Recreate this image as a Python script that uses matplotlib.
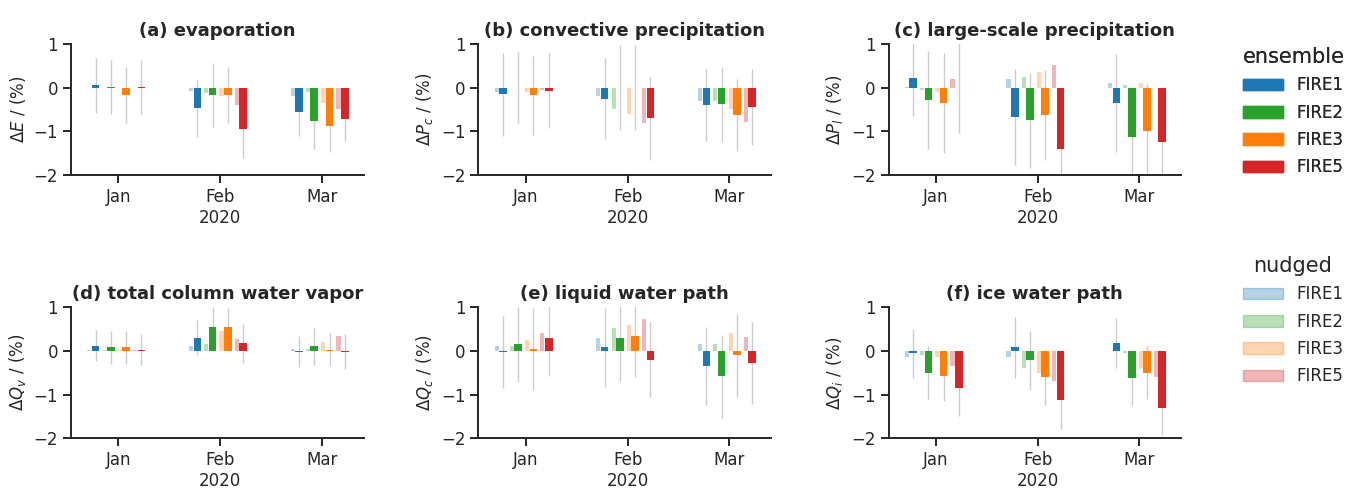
import numpy as np
import matplotlib
matplotlib.use("Agg")
import matplotlib.pyplot as plt
from matplotlib.patches import Patch

months = ["Jan", "Feb\n2020", "Mar"]
fires = ["FIRE1", "FIRE2", "FIRE3", "FIRE5"]
colors = ["#1f77b4", "#2ca02c", "#ff7f0e", "#d62728"]

titles = ["(a) evaporation", "(b) convective precipitation",
          "(c) large-scale precipitation", "(d) total column water vapor",
          "(e) liquid water path", "(f) ice water path"]
ylabels = [r"$\Delta E$ / (%)", r"$\Delta P_c$ / (%)", r"$\Delta P_l$ / (%)",
           r"$\Delta Q_v$ / (%)", r"$\Delta Q_c$ / (%)", r"$\Delta Q_i$ / (%)"]

# ensemble: medias [fire][mes]
ens_evap = [[0.05, -0.47, -0.55], [0.01, -0.17, -0.77],
            [-0.17, -0.17, -0.87], [0.01, -0.95, -0.73]]
ens_conv = [[-0.15, -0.25, -0.40], [0.0, 0.0, -0.38],
            [-0.18, 0.0, -0.62], [-0.07, -0.70, -0.45]]
ens_lsp = [[0.22, -0.68, -0.35], [-0.28, -0.75, -1.13],
           [-0.35, -0.62, -1.00], [0.0, -1.40, -1.25]]
ens_tcwv = [[0.12, 0.30, -0.02], [0.08, 0.55, 0.10],
            [0.08, 0.55, 0.03], [0.03, 0.17, -0.02]]
ens_lwp = [[-0.02, 0.08, -0.35], [0.15, 0.30, -0.58],
           [0.05, 0.35, -0.10], [0.30, -0.20, -0.28]]
ens_iwp = [[-0.05, 0.08, 0.18], [-0.50, -0.22, -0.63],
           [-0.57, -0.60, -0.50], [-0.85, -1.12, -1.30]]

# ensemble: desviacion estandar [fire][mes]
std_evap = [[0.62, 0.65, 0.55], [0.62, 0.73, 0.63],
            [0.64, 0.63, 0.60], [0.61, 0.65, 0.50]]
std_conv = [[0.95, 0.92, 0.82], [0.82, 0.98, 0.86],
            [0.90, 0.97, 0.82], [0.85, 0.95, 0.87]]
std_lsp = [[0.88, 1.10, 1.12], [1.12, 1.08, 1.10],
           [1.14, 1.03, 1.10], [1.04, 1.10, 1.00]]
std_tcwv = [[0.35, 0.40, 0.35], [0.38, 0.45, 0.42],
            [0.37, 0.43, 0.38], [0.35, 0.44, 0.40]]
std_lwp = [[0.82, 0.90, 0.90], [0.86, 0.98, 0.95],
           [0.94, 0.95, 0.95], [0.88, 0.85, 0.93]]
std_iwp = [[0.56, 0.70, 0.58], [0.60, 0.68, 0.62],
           [0.58, 0.65, 0.60], [0.63, 0.66, 0.62]]

# nudged [fire][mes]
nud_evap = [[0.0, -0.08, -0.20], [0.0, -0.12, -0.10],
            [-0.02, -0.20, -0.35], [0.0, -0.40, -0.50]]
nud_conv = [[-0.10, -0.20, -0.30], [0.0, -0.50, -0.30],
            [-0.10, -0.60, -0.50], [-0.05, -0.80, -0.78]]
nud_lsp = [[0.02, 0.20, 0.10], [-0.05, 0.25, 0.05],
           [-0.10, 0.35, 0.10], [0.20, 0.52, 0.0]]
nud_tcwv = [[0.02, 0.10, 0.05], [0.02, 0.15, 0.05],
            [0.03, 0.45, 0.20], [0.03, 0.28, 0.35]]
nud_lwp = [[0.10, 0.30, 0.15], [0.12, 0.52, 0.15],
           [0.25, 0.58, 0.40], [0.40, 0.72, 0.32]]
nud_iwp = [[-0.15, -0.15, 0.0], [-0.10, -0.40, -0.05],
           [-0.15, -0.50, -0.40], [-0.35, -0.70, -0.60]]

ENS = [ens_evap, ens_conv, ens_lsp, ens_tcwv, ens_lwp, ens_iwp]
STD = [std_evap, std_conv, std_lsp, std_tcwv, std_lwp, std_iwp]
NUD = [nud_evap, nud_conv, nud_lsp, nud_tcwv, nud_lwp, nud_iwp]

plt.rcParams['font.family'] = 'DejaVu Sans'
plt.rcParams['font.size'] = 12
plt.rcParams['mathtext.fontset'] = 'dejavusans'
plt.rcParams['text.color'] = '#262626'
plt.rcParams['axes.labelcolor'] = '#262626'
plt.rcParams['xtick.color'] = '#262626'
plt.rcParams['ytick.color'] = '#262626'
plt.rcParams['axes.edgecolor'] = '#262626'

fig = plt.figure(figsize=(13.67, 4.93), dpi=100)
lefts = [0.052, 0.350, 0.650]
bottoms = [0.645, 0.111]
w, h = 0.214, 0.266

x = np.arange(len(months))
offsets = [-0.225, -0.075, 0.075, 0.225]

for k in range(6):
    ax = fig.add_axes([lefts[k % 3], bottoms[k // 3], w, h])
    for i in range(4):
        xe = x + offsets[i]
        ax.bar(xe - 0.062, NUD[k][i], width=0.04, color=colors[i],
               alpha=0.33, zorder=2)
        ax.errorbar(xe, ENS[k][i], yerr=STD[k][i], fmt='none',
                    ecolor='0.8', elinewidth=1.0, zorder=1)
        ax.bar(xe, ENS[k][i], width=0.075, color=colors[i], zorder=3)
    ax.set_xlim(-0.466, 2.41)
    ax.set_ylim(-2, 1)
    ax.set_yticks([-2, -1, 0, 1])
    ax.set_xticks(x)
    ax.set_xticklabels(months)
    ax.set_title(titles[k], fontweight='bold', fontsize=13)
    ax.set_ylabel(ylabels[k])
    ax.spines['top'].set_visible(False)
    ax.spines['right'].set_visible(False)
    ax.spines['left'].set_linewidth(1.4)
    ax.spines['bottom'].set_linewidth(1.4)
    ax.tick_params(width=1.4, length=6)

h_ens = [Patch(color=c) for c in colors]
h_nud = [Patch(color=c, alpha=0.33) for c in colors]
leg1 = fig.legend(h_ens, fires, title="ensemble", loc='upper left',
                  bbox_to_anchor=(0.898, 0.935), frameon=False,
                  handlelength=2.4, labelspacing=0.56,
                  fontsize=12, title_fontsize=15)
fig.add_artist(leg1)
fig.legend(h_nud, fires, title="nudged", loc='upper left',
           bbox_to_anchor=(0.898, 0.511), frameon=False,
           handlelength=2.4, labelspacing=0.56,
           fontsize=12, title_fontsize=15)

plt.savefig("out.png", dpi=100)
